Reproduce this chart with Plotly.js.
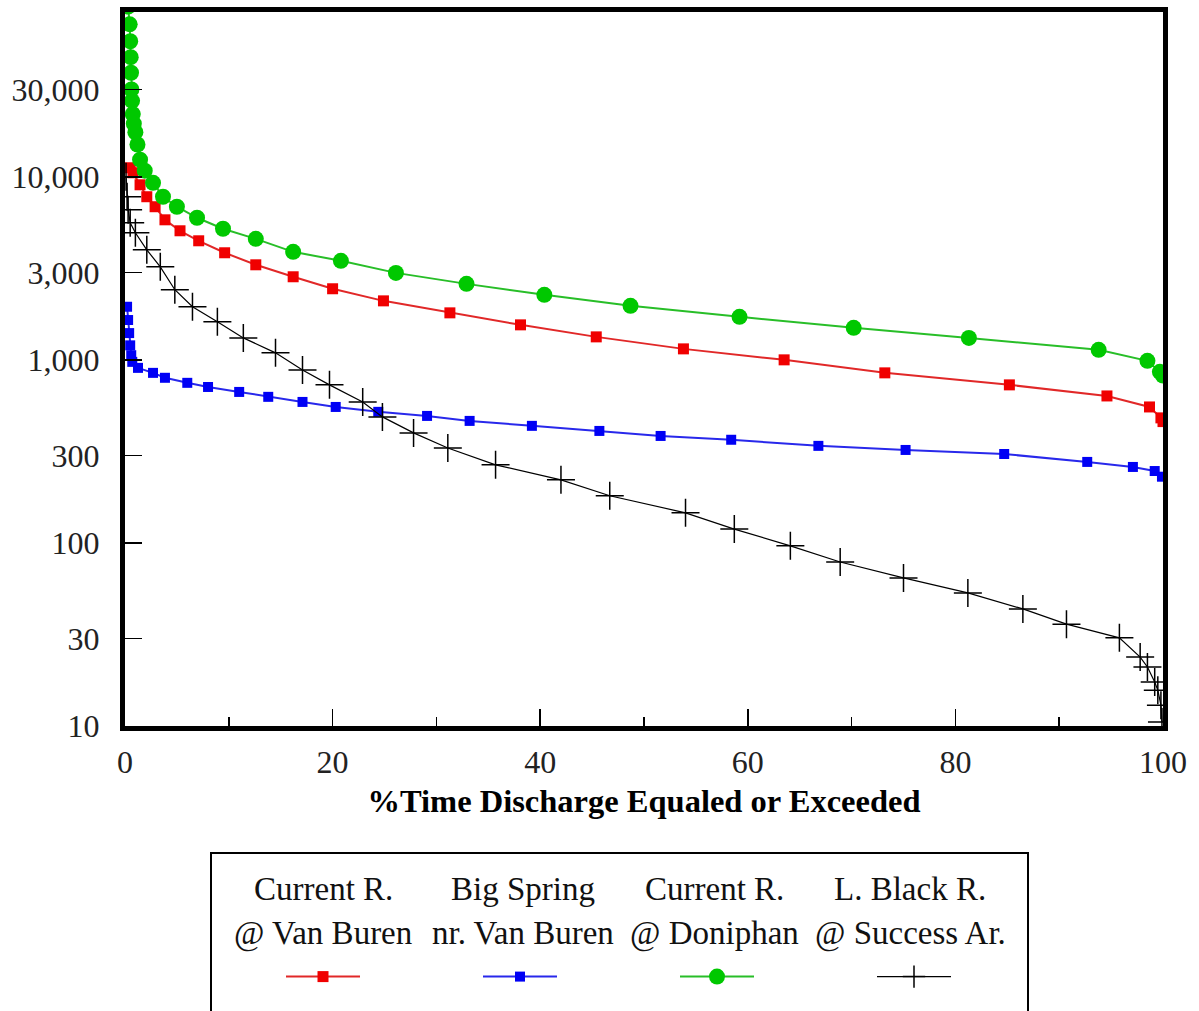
<!DOCTYPE html>
<html>
<head>
<meta charset="utf-8">
<script src="https://cdn.plot.ly/plotly-3.0.1.min.js"></script>
<style>html,body{margin:0;padding:0;background:#fff}#chart{width:1199px;height:1011px}</style>
</head>
<body>
<div id="chart"></div>
<script>
// ---- data ----
const seriesNames = ["Current R. @ Van Buren", "Big Spring nr. Van Buren", "Current R. @ Doniphan", "L. Black R. @ Success Ar."];
const legendLine1 = ["Current R.", "Big Spring", "Current R.", "L. Black R."];
const legendLine2 = ["@ Van Buren", "nr. Van Buren", "@ Doniphan", "@ Success Ar."];

const redX = [0.5,0.77,1.45,2.1,2.9,3.85,5.3,7.1,9.6,12.6,16.2,20.0,24.9,31.3,38.1,45.4,53.8,63.5,73.2,85.2,94.6,98.7,99.8,100];
const redY = [11200,10520,9040,7780,6860,5820,5070,4470,3845,3305,2843,2445,2100,1806,1553,1335,1148,1000,849,730,635,553,482,460];

const blueX = [0.2,0.3,0.4,0.5,0.6,0.7,1.25,2.7,3.85,6.0,8.0,11.0,13.8,17.1,20.3,24.4,29.1,33.2,39.2,45.7,51.6,58.4,66.8,75.2,84.7,92.7,97.1,99.2,99.9];
const blueY = [1950,1650,1400,1200,1060,975,904,849,798,749,711,668,628,589,553,520,494,464,436,409,384,366,339,322,306,277,260,247,230];

const greenX = [0.3,0.45,0.5,0.55,0.58,0.62,0.68,0.75,0.85,1.0,1.2,1.45,1.9,2.7,3.66,5.0,6.94,9.44,12.6,16.2,20.8,26.1,32.9,40.4,48.7,59.2,70.2,81.3,93.8,98.5,99.7,100];
const greenY = [85000,68000,55000,45000,37000,30000,26000,22000,19500,17500,15000,12400,10800,9270,7780,6860,5970,5200,4580,3890,3475,2985,2600,2265,1972,1718,1496,1318,1134,988,860,820];

const blackX = [0.1,0.2,0.3,0.5,1.0,2.1,3.4,4.8,6.5,8.9,11.4,14.5,17.1,19.7,22.9,24.8,27.8,31.1,35.7,42.0,46.7,54.0,58.7,64.1,68.9,75.0,81.2,86.5,90.7,95.8,97.8,98.5,99.2,99.5,99.8,99.9];
const blackY = [10000,7780,6610,5600,4945,3990,3220,2415,1950,1615,1318,1092,881,730,589,488,399,330,267,221,181,146,119,96.4,78.7,64.4,53.3,43.6,36.0,30.3,23.8,21.0,17.4,15.7,13.0,10.5];

const xTickVals = [0,20,40,60,80,100];
const yTickVals = [10,30,100,300,1000,3000,10000,30000];
const yTickText = ["10","30","100","300","1,000","3,000","10,000","30,000"];
const xTitle = "%Time Discharge Equaled or Exceeded";

// ---- chart ----
const FONT = "Liberation Serif, Times New Roman, serif";
const traces = [
  {x: redX, y: redY, name: " ", mode: "lines+markers", line: {color: "rgb(225,40,40)", width: 2},
   marker: {symbol: "square", size: 11, color: "rgb(240,0,0)"}},
  {x: blueX, y: blueY, name: " ", mode: "lines+markers", line: {color: "rgb(40,40,235)", width: 2},
   marker: {symbol: "square", size: 10, color: "rgb(0,0,245)"}},
  {x: greenX, y: greenY, name: " ", mode: "lines+markers", line: {color: "rgb(40,190,40)", width: 2},
   marker: {symbol: "circle", size: 16, color: "rgb(0,200,0)"}},
  {x: blackX, y: blackY, name: " ", mode: "lines+markers", line: {color: "black", width: 1.2},
   marker: {symbol: "cross-thin-open", size: 20, color: "black", line: {color: "black", width: 1.5}}}
];

const colCenters = [323, 523, 714, 910];
const plotL = 125, plotR = 1163, plotT = 12, plotB = 726;
const pw = plotR - plotL, ph = plotB - plotT;
const annotations = [];
legendLine1.forEach((t, i) => {
  [[t, 889], [legendLine2[i], 933]].forEach(([txt, yy]) => annotations.push({
    xref: "paper", yref: "paper",
    x: (colCenters[i] - plotL) / pw, y: (plotB - yy) / ph,
    xanchor: "center", yanchor: "middle", showarrow: false,
    text: txt, font: {family: FONT, size: 33, color: "#111"}
  }));
});

const layout = {
  width: 1199, height: 1011,
  margin: {l: plotL, r: 1199 - plotR, t: plotT, b: 1011 - plotB},
  paper_bgcolor: "white", plot_bgcolor: "white",
  showlegend: true,
  font: {family: FONT, color: "#222"},
  xaxis: {
    range: [0, 100], tickvals: xTickVals, ticks: "inside", ticklen: 17, tickwidth: 1.5, tickcolor: "black",
    minor: {dtick: 10, ticks: "inside", ticklen: 9, tickwidth: 1.5, tickcolor: "black"},
    showgrid: false, zeroline: false, showline: true, linewidth: 5, linecolor: "black", mirror: true,
    tickfont: {family: FONT, size: 32, color: "#222"}, ticklabelstandoff: 4,
    title: {text: "<b>" + xTitle + "</b>", font: {family: FONT, size: 32.5, color: "black"}, standoff: 11}
  },
  yaxis: {
    type: "log", range: [1, 4.9], tickvals: yTickVals, ticktext: yTickText,
    ticks: "inside", ticklen: 17, tickwidth: 1.5, tickcolor: "black",
    showgrid: false, zeroline: false, showline: true, linewidth: 5, linecolor: "black", mirror: true,
    tickfont: {family: FONT, size: 32, color: "#222"}, ticklabelstandoff: 14
  },
  legend: {
    orientation: "h", x: (281 - plotL) / pw, xanchor: "left", y: (plotB - 977) / ph, yanchor: "middle",
    entrywidth: 108, entrywidthmode: "pixels", itemwidth: 74,
    bgcolor: "rgba(0,0,0,0)", borderwidth: 0, font: {size: 14}
  },
  shapes: [{
    type: "rect", xref: "paper", yref: "paper",
    x0: (211 - plotL) / pw, x1: (1028 - plotL) / pw, y0: (plotB - 853) / ph, y1: (plotB - 1030) / ph,
    line: {color: "black", width: 2}, fillcolor: "rgba(0,0,0,0)"
  }],
  annotations: annotations
};

Plotly.newPlot("chart", traces, layout, {displayModeBar: false, staticPlot: true});
</script>
</body>
</html>
